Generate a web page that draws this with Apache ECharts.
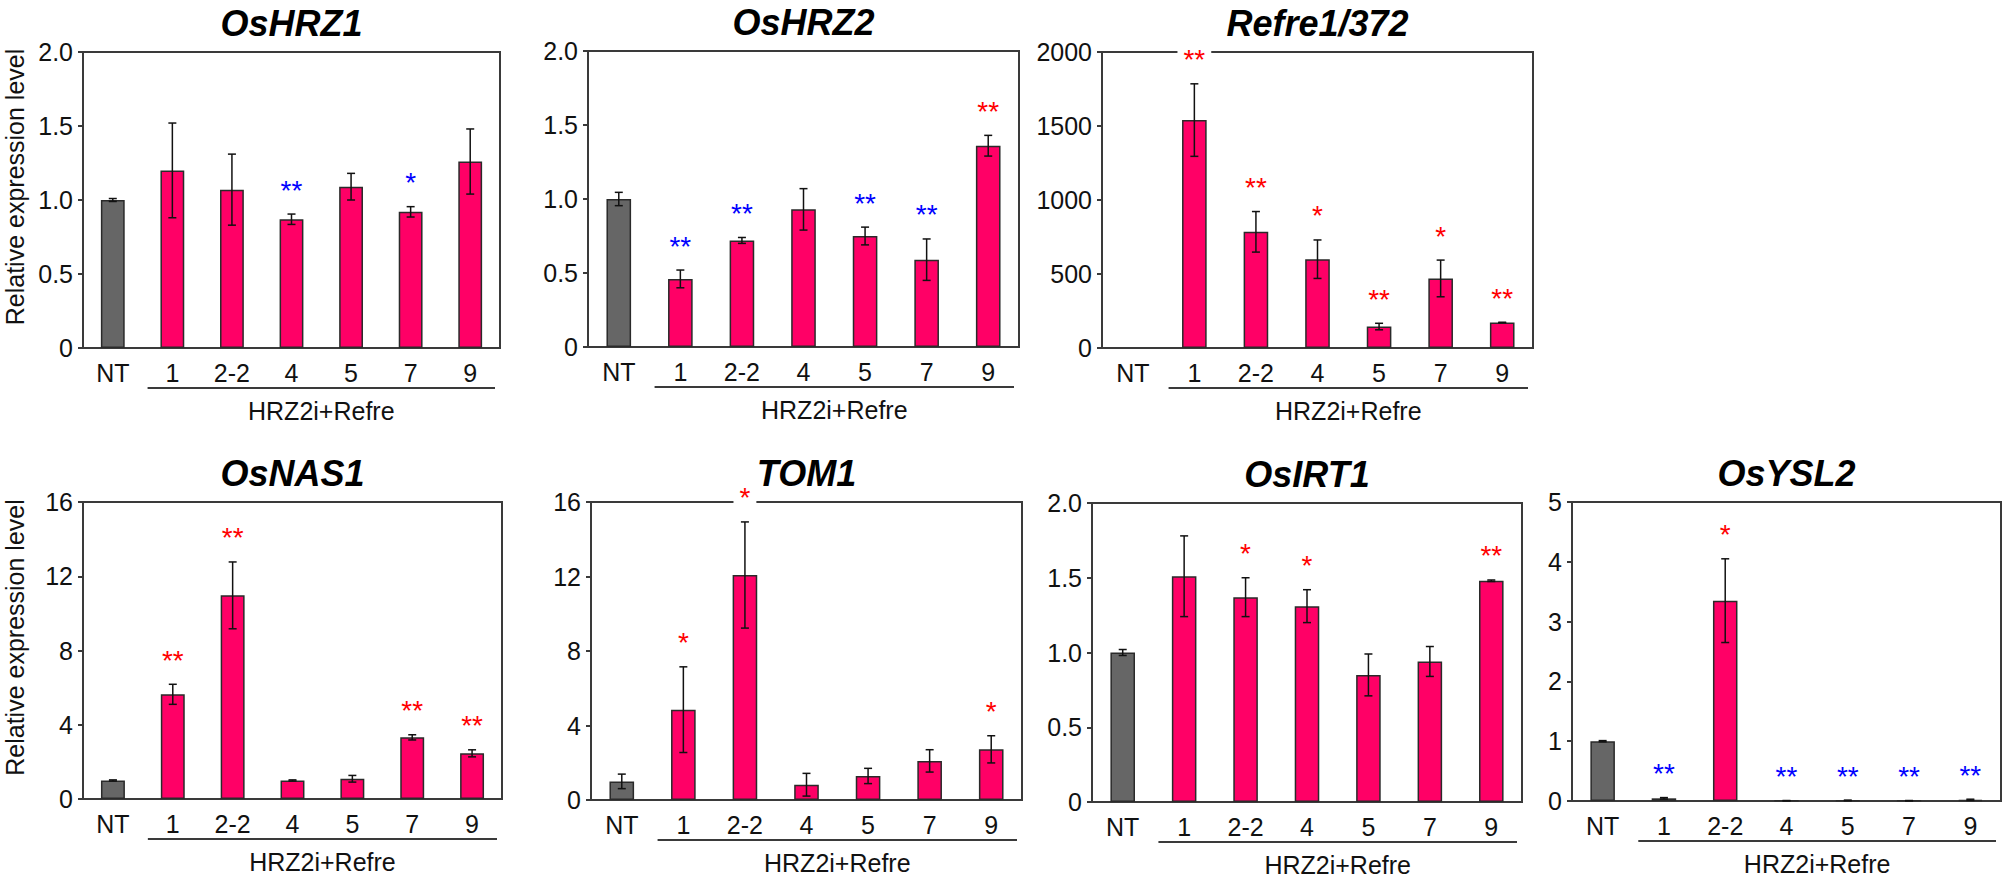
<!DOCTYPE html>
<html><head><meta charset="utf-8">
<script src="https://cdn.jsdelivr.net/npm/echarts@6/dist/echarts.min.js"></script>
<style>html,body{margin:0;padding:0;background:#fff}#c{width:2008px;height:882px}</style>
</head><body><div id="c"></div>
<script>
// ---------- data ----------
const categories = ['NT', '1', '2-2', '4', '5', '7', '9'];
const groupLabel = 'HRZ2i+Refre';
const yAxisName = 'Relative expression level';
const titles = ['OsHRZ1', 'OsHRZ2', 'Refre1/372', 'OsNAS1', 'TOM1', 'OsIRT1', 'OsYSL2'];

const ticksRel2 = ['0', '0.5', '1.0', '1.5', '2.0'];
const ticksRefre = ['0', '500', '1000', '1500', '2000'];
const ticks16 = ['0', '4', '8', '12', '16'];
const ticks5 = ['0', '1', '2', '3', '4', '5'];

const hrz1Mean = [1.00, 1.20, 1.07, 0.87, 1.09, 0.92, 1.26];
const hrz1Err  = [0.01, 0.32, 0.24, 0.035, 0.09, 0.035, 0.22];
const hrz1Sig  = ['', '', '', '**', '', '*', ''];
const hrz1Dir  = [0, 0, 0, -1, 0, -1, 0];

const hrz2Mean = [1.00, 0.46, 0.72, 0.93, 0.75, 0.59, 1.36];
const hrz2Err  = [0.045, 0.06, 0.02, 0.14, 0.06, 0.14, 0.07];
const hrz2Sig  = ['', '**', '**', '', '**', '**', '**'];
const hrz2Dir  = [0, -1, -1, 0, -1, -1, 1];

const refreMean = [null, 1540, 785, 600, 145, 470, 172];
const refreErr  = [0, 245, 137, 130, 22, 124, 2];
const refreSig  = ['', '**', '**', '*', '**', '*', '**'];
const refreDir  = [0, 1, 1, 1, 1, 1, 1];

const nas1Mean = [1.00, 5.64, 10.97, 1.00, 1.09, 3.32, 2.46];
const nas1Err  = [0.03, 0.54, 1.80, 0.03, 0.18, 0.14, 0.19];
const nas1Sig  = ['', '**', '**', '', '', '**', '**'];
const nas1Dir  = [0, 1, 1, 0, 0, 1, 1];

const tom1Mean = [1.00, 4.85, 12.08, 0.82, 1.29, 2.10, 2.72];
const tom1Err  = [0.39, 2.30, 2.85, 0.61, 0.41, 0.60, 0.73];
const tom1Sig  = ['', '*', '*', '', '', '', '*'];
const tom1Dir  = [0, 1, 1, 0, 0, 0, 1];

const irt1Mean = [1.00, 1.51, 1.37, 1.31, 0.85, 0.94, 1.48];
const irt1Err  = [0.02, 0.27, 0.13, 0.11, 0.14, 0.10, 0.005];
const irt1Sig  = ['', '', '*', '*', '', '', '**'];
const irt1Dir  = [0, 0, 1, 1, 0, 0, 1];

const ysl2Mean = [1.00, 0.045, 3.35, 0.005, 0.01, 0.005, 0.02];
const ysl2Err  = [0.01, 0.012, 0.70, 0.003, 0.005, 0.003, 0.01];
const ysl2Sig  = ['', '**', '*', '**', '**', '**', '**'];
const ysl2Dir  = [0, -1, 1, -1, -1, -1, -1];

// ---------- layout / style ----------
const FONT = '"Liberation Sans", Arial, sans-serif';
const PINK = '#FF0066', GRAY = '#666666', EDGE = '#2a2a2a', AXIS = '#3a3a3a';
const UP = '#FF0000', DOWN = '#0000FF';

const grids = [
  {left: 83,   top: 52,  width: 417, height: 296},
  {left: 588,  top: 51,  width: 431, height: 296},
  {left: 1102, top: 52,  width: 431, height: 296},
  {left: 83,   top: 502, width: 419, height: 297},
  {left: 591,  top: 502, width: 431, height: 298},
  {left: 1092, top: 503, width: 430, height: 299},
  {left: 1572, top: 502, width: 429, height: 299}
];

const panels = [
  {mean: hrz1Mean,  err: hrz1Err,  sig: hrz1Sig,  dir: hrz1Dir,  max: 2,    interval: 0.5, ticks: ticksRel2, yName: true},
  {mean: hrz2Mean,  err: hrz2Err,  sig: hrz2Sig,  dir: hrz2Dir,  max: 2,    interval: 0.5, ticks: ticksRel2},
  {mean: refreMean, err: refreErr, sig: refreSig, dir: refreDir, max: 2000, interval: 500, ticks: ticksRefre},
  {mean: nas1Mean,  err: nas1Err,  sig: nas1Sig,  dir: nas1Dir,  max: 16,   interval: 4,   ticks: ticks16, yName: true},
  {mean: tom1Mean,  err: tom1Err,  sig: tom1Sig,  dir: tom1Dir,  max: 16,   interval: 4,   ticks: ticks16},
  {mean: irt1Mean,  err: irt1Err,  sig: irt1Sig,  dir: irt1Dir,  max: 2,    interval: 0.5, ticks: ticksRel2},
  {mean: ysl2Mean,  err: ysl2Err,  sig: ysl2Sig,  dir: ysl2Dir,  max: 5,    interval: 1,   ticks: ticks5}
];

const chart = echarts.init(document.getElementById('c'), null, {renderer: 'svg'});

const option = {
  animation: false,
  backgroundColor: '#fff',
  grid: grids.map(g => Object.assign({show: true, borderColor: AXIS, borderWidth: 2, backgroundColor: 'transparent', containLabel: false}, g)),
  xAxis: panels.map((p, i) => ({
    type: 'category', gridIndex: i, data: categories,
    axisLine: {lineStyle: {color: AXIS, width: 2}},
    axisTick: {show: false},
    axisLabel: {color: '#111', fontSize: 25, fontFamily: FONT, margin: 12, interval: 0}
  })),
  yAxis: panels.map((p, i) => ({
    type: 'value', gridIndex: i, min: 0, max: p.max, interval: p.interval,
    splitLine: {show: false},
    axisLine: {show: true, lineStyle: {color: AXIS, width: 2}},
    axisTick: {show: true, inside: false, length: 5, lineStyle: {color: AXIS, width: 2}},
    axisLabel: {color: '#111', fontSize: 25, fontFamily: FONT, margin: 10,
      formatter: v => p.ticks[Math.round(v / p.interval)]}
  })),
  series: []
};

panels.forEach((p, i) => {
  option.series.push({
    type: 'bar', xAxisIndex: i, yAxisIndex: i, barWidth: '40%', z: 2,
    data: p.mean.map((m, k) => ({
      value: m == null ? '-' : m,
      itemStyle: {color: k === 0 ? GRAY : PINK, borderColor: EDGE, borderWidth: 1.5}
    }))
  });
  option.series.push({
    type: 'custom', xAxisIndex: i, yAxisIndex: i, z: 5,
    data: p.mean.map((m, k) => [k, m == null ? NaN : m, p.err[k]]),
    renderItem: (params, api) => {
      const k = api.value(0), m = api.value(1), e = api.value(2);
      if (isNaN(m)) return null;
      const lo = api.coord([k, Math.max(0, m - e)]);
      const hi = api.coord([k, m + e]);
      const cap = 4;
      const ls = {stroke: '#111', lineWidth: 1.5};
      const children = [
        {type: 'line', shape: {x1: hi[0], y1: lo[1], x2: hi[0], y2: hi[1]}, style: ls},
        {type: 'line', shape: {x1: hi[0] - cap, y1: hi[1], x2: hi[0] + cap, y2: hi[1]}, style: ls},
        {type: 'line', shape: {x1: hi[0] - cap, y1: lo[1], x2: hi[0] + cap, y2: lo[1]}, style: ls}
      ];
      const s = p.sig[params.dataIndex];
      if (s) {
        children.push({
          type: 'text', x: hi[0], y: hi[1] - 10,
          style: {text: s, fill: p.dir[params.dataIndex] < 0 ? DOWN : UP,
            font: '28px ' + FONT, align: 'center', verticalAlign: 'bottom',
            backgroundColor: '#fff', padding: [5, 6, 0, 6]}
        });
      }
      return {type: 'group', children};
    }
  });
});

chart.setOption(option);

// ---------- annotations positioned from the axes ----------
const graphics = [];
panels.forEach((p, i) => {
  const g = grids[i];
  const band = g.width / categories.length;
  const x1 = chart.convertToPixel({xAxisIndex: i}, categories[1]);
  const x9 = chart.convertToPixel({xAxisIndex: i}, categories[categories.length - 1]);
  const bottom = g.top + g.height;
  graphics.push({
    type: 'line', shape: {x1: x1 - band / 2 + 5, y1: bottom + 40, x2: x9 + band / 2 - 5, y2: bottom + 40},
    style: {stroke: AXIS, lineWidth: 2}
  });
  graphics.push({
    type: 'text', x: (x1 + x9) / 2, y: bottom + 63,
    style: {text: groupLabel, font: '25px ' + FONT, fill: '#111', align: 'center', verticalAlign: 'middle'}
  });
  graphics.push({
    type: 'text', x: g.left + g.width / 2, y: g.top - 29,
    style: {text: titles[i], font: 'italic bold 36px ' + FONT, fill: '#000', align: 'center', verticalAlign: 'middle'}
  });
  if (p.yName) {
    graphics.push({
      type: 'text', x: 15, y: g.top + g.height / 2 - 13, rotation: Math.PI / 2,
      style: {text: yAxisName, font: '25px ' + FONT, fill: '#111', align: 'center', verticalAlign: 'middle'}
    });
  }
});
chart.setOption({graphic: graphics});
</script>
</body></html>
